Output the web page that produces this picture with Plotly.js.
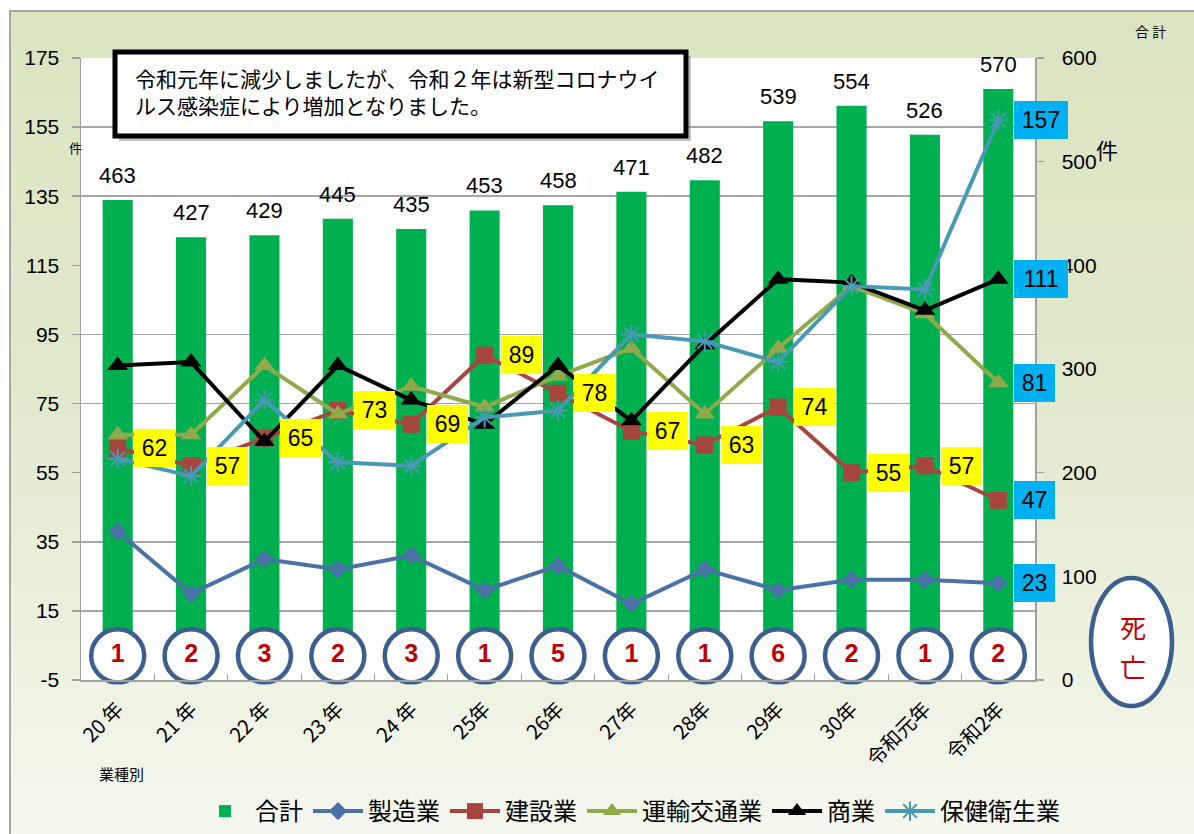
<!DOCTYPE html>
<html><head><meta charset="utf-8">
<script src="https://cdn.plot.ly/plotly-3.0.1.min.js"></script>
<style>
html,body{margin:0;padding:0;background:#fff;width:1194px;height:834px;overflow:hidden;}
#frame{position:absolute;left:9px;top:10px;width:1185px;height:824px;border-left:2px solid #a6a6a6;border-top:2px solid #a6a6a6;background:linear-gradient(to bottom,#dbe4c1 0%,#e1e9cc 45%,#f5f7ee 100%);box-sizing:border-box;}
#chart{position:absolute;left:0;top:0;width:1194px;height:834px;}
</style></head>
<body>
<div id="frame"></div>
<div id="chart"></div>
<script>
// ---- data ----
const categories = ['20 年','21 年','22 年','23 年','24 年','25年','26年','27年','28年','29年','30年','令和元年','令和2年'];
const total         = [463,427,429,445,435,453,458,471,482,539,554,526,570];
const manufacturing = [38,20,30,27,31,21,28,17,27,21,24,24,23];
const construction  = [62,57,65,73,69,89,78,67,63,74,55,57,47];
const transport     = [66,66,86,72,80,74,83,91,72,91,109,101,81];
const commerce      = [86,87,64,86,76,69,86,70,92,111,110,102,111];
const health        = [59,54,76,58,57,71,73,95,93,87,109,108,157];
const deaths        = [1,2,3,2,3,1,5,1,1,6,2,1,2];
const seriesNames   = ['合計','製造業','建設業','運輸交通業','商業','保健衛生業'];
const leftTicks     = [-5,15,35,55,75,95,115,135,155,175];
const note = '令和元年に減少しましたが、令和２年は新型コロナウイ<br>ルス感染症により増加となりました。';

const JP = '"Noto Sans CJK JP", "Noto Sans", sans-serif';
const NUM = '"Liberation Sans", Arial, sans-serif';
const NARROW = '"Liberation Sans Narrow", "Liberation Sans", Arial, sans-serif';

// plot area in pixels (for paper-coordinate conversions)
const W = 1194, H = 834;
const L = 81, R = 1035, T = 58, B = 680;
const px = x => (x - L) / (R - L);
const py = y => (B - y) / (B - T);

function lineTrace(name, y, color, symbol, size, extra) {
  return Object.assign({
    type: 'scatter', mode: 'lines+markers', name: name, x: categories, y: y, yaxis: 'y2',
    line: {color: color, width: 4},
    marker: {symbol: symbol, size: size, color: color, line: {color: color, width: 0}},
    cliponaxis: false
  }, extra || {});
}

const traces = [
  {type: 'bar', name: seriesNames[0], x: categories, y: total, yaxis: 'y',
   marker: {color: '#00b050'}, width: 0.41},
  lineTrace(seriesNames[1], manufacturing, '#4a72a6', 'diamond', 14),
  lineTrace(seriesNames[2], construction, '#a6463f', 'square', 17),
  lineTrace(seriesNames[3], transport, '#8fa94b', 'triangle-up', 18),
  lineTrace(seriesNames[4], commerce, '#000000', 'triangle-up', 18),
  lineTrace(seriesNames[5], health, '#4899b3', 'asterisk-open', 17,
    {marker: {symbol: 'asterisk-open', size: 17, color: '#4899b3', line: {color: '#4899b3', width: 2}}}),
  {type: 'scatter', mode: 'markers+text', x: categories, y: categories.map(() => 2), yaxis: 'y2',
   text: deaths.map(String), textposition: 'middle center', showlegend: false, hoverinfo: 'skip',
   cliponaxis: false,
   marker: {symbol: 'circle', size: 53, color: '#ffffff', line: {color: '#3d5f8f', width: 4.5}},
   textfont: {family: NARROW, size: 25, color: '#c00000', weight: 'bold'}}
];

const annotations = [];
// totals above bars
categories.forEach((c, i) => {
  annotations.push({x: c, y: total[i], xref: 'x', yref: 'y', text: String(total[i]), showarrow: false,
    xanchor: 'center', yanchor: 'bottom', yshift: 10, font: {family: NUM, size: 22, color: '#000'}});
});
function valueLabel(x, v, bg) {
  const t = String(v);
  return {x: x, y: v, xref: 'x', yref: 'y2', text: t, showarrow: false, xanchor: 'left', yanchor: 'middle',
    xshift: 16, bgcolor: bg, width: 13 * t.length + 15, height: 38, borderpad: 0, borderwidth: 0,
    font: {family: NUM, size: 23, color: '#000'}};
}
const last = categories.length - 1;
construction.forEach((v, i) => { if (i < last) annotations.push(valueLabel(categories[i], v, '#ffff00')); });
[health, commerce, transport, construction, manufacturing].forEach(s =>
  annotations.push(valueLabel(categories[last], s[last], '#00b0f0')));

function paperText(x, y, text, size, color, xanchor) {
  return {xref: 'paper', yref: 'paper', x: px(x), y: py(y), text: text, showarrow: false,
    xanchor: xanchor || 'center', yanchor: 'middle', align: 'left',
    font: {family: JP, size: size, color: color || '#000'}};
}
// note text
annotations.push(paperText(133, 91, note, 21, '#000', 'left'));
// unit labels
annotations.push(paperText(75, 147, '件', 13));
annotations.push(paperText(1107, 149, '件', 22));
annotations.push(paperText(1150, 31, '合 計', 14));
annotations.push(paperText(97, 773, '業種別', 15, '#000', 'left'));
// 死亡
annotations.push(paperText(1133, 626, '死', 26, '#c00000'));
annotations.push(paperText(1133, 666, '亡', 26, '#c00000'));

const shapes = [
  // note box shadow + box
  {type: 'rect', xref: 'paper', yref: 'paper', x0: px(119), x1: px(691), y0: py(141), y1: py(56),
   line: {width: 0}, fillcolor: 'rgba(120,120,120,0.45)', layer: 'above'},
  {type: 'rect', xref: 'paper', yref: 'paper', x0: px(115), x1: px(686), y0: py(136), y1: py(52),
   line: {color: '#000', width: 5}, fillcolor: '#ffffff', layer: 'above'},
  // 死亡 ellipse
  {type: 'circle', xref: 'paper', yref: 'paper', x0: px(1091), x1: px(1172), y0: py(706), y1: py(578),
   line: {color: '#3d5f8f', width: 4.5}, fillcolor: '#ffffff'}
];

const layout = {
  width: W, height: H,
  margin: {l: L, r: W - R, t: T, b: H - B, pad: 0, autoexpand: false},
  paper_bgcolor: 'rgba(0,0,0,0)', plot_bgcolor: '#ffffff',
  showlegend: true,
  legend: {orientation: 'h', xref: 'container', yref: 'container', x: 630 / W, xanchor: 'center',
    y: (H - 789) / H, yanchor: 'top',
    font: {family: JP, size: 24, color: '#000'}, bgcolor: 'rgba(0,0,0,0)', itemwidth: 50},
  bargap: 0.59,
  xaxis: {type: 'category', categoryorder: 'array', categoryarray: categories, range: [-0.5, 12.5],
    automargin: false, tickangle: -45, tickfont: {family: JP, size: 20, color: '#000'},
    ticklabelstandoff: 8,
    showline: true, linecolor: '#a0a0a0', linewidth: 1.5, ticks: 'inside', ticklen: 6, tickcolor: '#a0a0a0',
    tickson: 'boundaries', showgrid: false, fixedrange: true},
  yaxis: {range: [0, 600], dtick: 100, side: 'right', showgrid: false, zeroline: false, automargin: false,
    ticks: 'outside', ticklen: 7, tickcolor: '#a0a0a0', tickwidth: 1.5,
    showline: true, linecolor: '#a0a0a0', linewidth: 1.5,
    ticklabelstandoff: 14, tickfont: {family: NUM, size: 21, color: '#000'},
    minor: {tick0: 0, dtick: 200 / 3, showgrid: true, gridcolor: '#a6a6a6', gridwidth: 1.5, ticks: ''}},
  yaxis2: {range: [-5, 175], tickmode: 'array', tickvals: leftTicks, ticktext: leftTicks.map(String),
    overlaying: 'y', side: 'left', showgrid: false, zeroline: false, automargin: false,
    ticks: 'outside', ticklen: 8, tickcolor: '#a0a0a0', tickwidth: 1.5,
    showline: true, linecolor: '#a0a0a0', linewidth: 1.5,
    ticklabelstandoff: 8, tickfont: {family: NUM, size: 21, color: '#000'}},
  annotations: annotations,
  shapes: shapes
};

Plotly.newPlot('chart', traces, layout, {displayModeBar: false, staticPlot: true});
</script>
</body></html>
